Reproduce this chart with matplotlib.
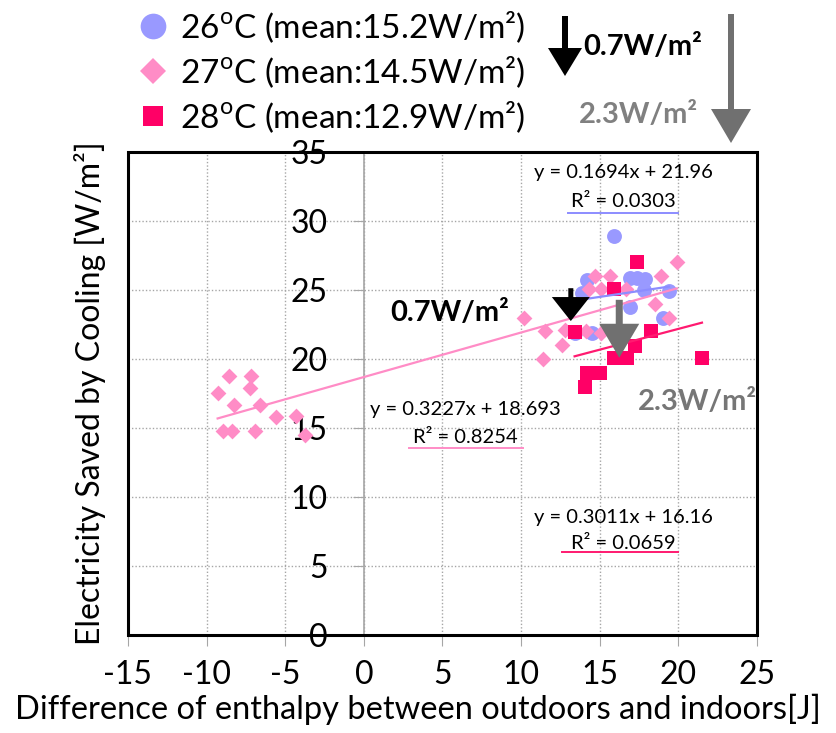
import matplotlib.pyplot as plt
from matplotlib.patches import Rectangle
from matplotlib.lines import Line2D
import numpy as np

plt.rcParams['font.family'] = ['Lato', 'DejaVu Sans']
plt.rcParams['axes.unicode_minus'] = False

# 26 C (circles)
x26 = [15.9, 14.2, 13.9, 16.9, 17.4, 17.9, 17.8, 16.9, 19.4, 19.0, 13.4, 14.5]
y26 = [28.9, 25.7, 24.8, 25.9, 25.9, 25.8, 25.0, 23.8, 24.9, 23.0, 21.9, 21.9]

# 27 C (diamonds)
x27 = [-8.6, -7.2, -9.3, -7.25, -8.25, -6.6, -5.6, -4.3, -8.95, -8.4, -6.9, -3.75,
       10.2, 11.5, 12.6, 11.4, 12.8, 14.1, 15.1, 14.7, 15.65, 14.3, 15.1, 16.7,
       18.9, 19.9, 18.5, 19.4]
y27 = [18.8, 18.8, 17.5, 17.9, 16.7, 16.7, 15.8, 15.9, 14.8, 14.8, 14.8, 14.5,
       23.0, 22.0, 21.0, 20.0, 22.1, 22.0, 21.9, 26.0, 26.0, 25.05, 25.05, 25.1,
       26.0, 27.05, 24.0, 23.0]

# 28 C (squares)
x28 = [17.4, 15.9, 13.4, 18.25, 17.25, 15.9, 16.75, 21.5, 14.2, 15.0, 14.05]
y28 = [27.0, 25.1, 21.95, 22.0, 20.95, 20.05, 20.05, 20.05, 19.0, 19.0, 18.0]

# trend lines (slope, intercept, r2)
fit26 = (0.1694, 21.96, 0.0303)
fit27 = (0.3227, 18.693, 0.8254)
fit28 = (0.3011, 16.16, 0.0659)

labels = [r'26$^\mathregular{o}$C (mean:15.2W/m²)',
          r'27$^\mathregular{o}$C (mean:14.5W/m²)',
          r'28$^\mathregular{o}$C (mean:12.9W/m²)']
eq_texts = ['y = 0.1694x + 21.96', 'y = 0.3227x + 18.693', 'y = 0.3011x + 16.16']
r2_texts = ['R² = 0.0303', 'R² = 0.8254', 'R² = 0.0659']

c26, c27, c28 = '#9999FF', '#FF8CC6', '#FF0066'
line26, line27, line28 = '#8C8CFF', '#FF8CC6', '#FF1A70'

fig = plt.figure(figsize=(8.37, 7.33), dpi=100)
ax = fig.add_axes([128 / 837, 1 - 635 / 733, 629 / 837, 483 / 733])

ax.scatter(x26, y26, s=115, marker='o', color=c26, zorder=3, linewidths=0)
ax.scatter(x27, y27, s=65, marker='D', color=c27, zorder=3, linewidths=0)
ax.scatter(x28, y28, s=90, marker='s', color=c28, zorder=3, linewidths=0)

for xs, fit, col in [(x26, fit26, line26), (x27, fit27, line27), (x28, fit28, line28)]:
    xx = np.array([min(xs), max(xs)])
    ax.plot(xx, fit[0] * xx + fit[1], color=col, lw=1.6, zorder=4)

ax.set_xlim(-15, 25)
ax.set_ylim(0, 35)
ax.set_xticks(range(-15, 26, 5))
ax.set_yticks(range(0, 36, 5))

ax.grid(True, color='#A6A6A6', linestyle=(0, (1, 1.5)), linewidth=1)
ax.set_axisbelow(True)

for s in ['top', 'right', 'bottom']:
    ax.spines[s].set_visible(False)
ax.spines['left'].set_position(('data', 0))
ax.spines['left'].set_color('#A6A6A6')
ax.spines['left'].set_linewidth(1.2)
ax.add_patch(Rectangle((0, 0), 1, 1, transform=ax.transAxes, fill=False,
                       edgecolor='black', linewidth=2.2, zorder=5, clip_on=False))

ax.tick_params(axis='both', labelsize=23, colors='black')
ax.tick_params(axis='y', direction='out', length=8, color='#A6A6A6', pad=18)
ax.tick_params(axis='x', direction='out', length=8, color='#A6A6A6', pad=10)

ax.set_xlabel('Difference of enthalpy between outdoors and indoors[J]', fontsize=23.5)
ax.xaxis.set_label_coords(0.461, -0.122, transform=ax.transAxes)
ax.set_ylabel('Electricity Saved by Cooling [W/m²]', fontsize=23)
ax.yaxis.set_label_coords(-0.035, 0.5, transform=ax.transAxes)

# equations
eq_pos = [(0.787, 0.958, 0.898, 0.700, 0.874, 0.873, line26),
          (0.536, 0.466, 0.408, 0.447, 0.628, 0.387, line27),
          (0.787, 0.244, 0.190, 0.690, 0.874, 0.171, line28)]
for i, (xc, ye, yr, xa, xb, yl, col) in enumerate(eq_pos):
    ax.text(xc, ye, eq_texts[i], transform=ax.transAxes, ha='center', va='center', fontsize=14.5)
    ax.text(xc, yr, r2_texts[i], transform=ax.transAxes, ha='center', va='center', fontsize=14.5)
    ax.plot([xa, xb], [yl, yl], transform=ax.transAxes, color=col, lw=1.4, clip_on=False)

# arrows and annotations inside plot
def arrow(x0, y0, x1, y1, coords, color, hw, hl, tw):
    style = f'simple,head_width={hw * 0.72},head_length={hl * 0.72},tail_width={tw * 0.72}'
    ax.annotate('', xy=(x1, y1), xytext=(x0, y0), xycoords=coords, textcoords=coords,
                arrowprops=dict(arrowstyle=style, mutation_scale=1, color=color,
                                shrinkA=0, shrinkB=0, lw=0), zorder=6, annotation_clip=False)

arrow(0.704, 0.718, 0.704, 0.650, 'axes fraction', 'black', 38, 24, 5)
arrow(0.781, 0.694, 0.781, 0.574, 'axes fraction', '#707070', 40, 34, 7)
ax.text(0.512, 0.666, '0.7W/m²', transform=ax.transAxes, ha='center', va='center',
        fontsize=21, fontweight='bold', color='black')
ax.text(0.905, 0.482, '2.3W/m²', transform=ax.transAxes, ha='center', va='center',
        fontsize=21, fontweight='bold', color='#767676')

# arrows above plot
arrow(565, 733 - 16, 565, 733 - 76, 'figure pixels', 'black', 34, 28, 6)
arrow(731, 733 - 14, 731, 733 - 143, 'figure pixels', '#707070', 40, 34, 6)
fig.text(643 / 837, 1 - 47 / 733, '0.7W/m²', ha='center', va='center',
         fontsize=21, fontweight='bold', color='black')
fig.text(638 / 837, 1 - 115 / 733, '2.3W/m²', ha='center', va='center',
         fontsize=21, fontweight='bold', color='#808080')

handles = [Line2D([], [], ls='', marker='o', ms=18.5, color=c26, mew=0),
           Line2D([], [], ls='', marker='D', ms=13.5, color=c27, mew=0),
           Line2D([], [], ls='', marker='s', ms=15, color=c28, mew=0)]
fig.legend(handles, labels, loc='upper left', bbox_to_anchor=(138 / 837, 1 - 9 / 733),
           frameon=False, fontsize=24, handlelength=0.9, handletextpad=0.35,
           labelspacing=0.28, borderpad=0, borderaxespad=0)

fig.savefig('out.png', dpi=100)
